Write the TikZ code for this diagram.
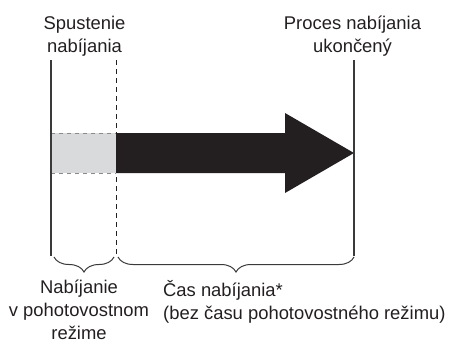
\documentclass[tikz,border=0pt]{standalone}
\usepackage{fontspec}
\setmainfont{Liberation Sans}
\usepackage{xcolor}
\usepackage{tikz}
\usetikzlibrary{positioning,calc,decorations.pathreplacing}
\definecolor{Ink}{HTML}{231F20}
\definecolor{LineGray}{HTML}{3A3A3A}
\definecolor{StandbyGray}{HTML}{D9DADB}
\definecolor{EdgeGray}{HTML}{8A8A8A}
\tikzset{
  label/.style={font=\fontsize{18.4}{23}\selectfont,align=center,inner sep=0pt,text=Ink},
  marker/.style={draw=LineGray,line width=1.1pt},
  dashmarker/.style={draw=Ink,line width=0.9pt,dash pattern=on 5pt off 4pt},
  span/.style={draw=LineGray,line width=1pt,decorate,
               decoration={brace,mirror,amplitude=15pt}}
}
\begin{document}
\begin{tikzpicture}[x=1pt,y=-1pt]
  \useasboundingbox (0,0) rectangle (452,343);

  % time markers
  \coordinate (start top) at (51,60);
  \coordinate (start bot) at (51,256);
  \coordinate (ready top) at (116,60);
  \coordinate (ready bot) at (116,256);
  \coordinate (done top) at (354,60);
  \coordinate (done bot) at (354,256);

  \node[label,anchor=north] (start) at (84.5,16) {Spustenie\\nabíjania};
  \node[label,anchor=north] (done) at (352.5,16) {Proces nabíjania\\ukončený};

  % standby part
  \fill[StandbyGray] (51,133) rectangle (116,173);
  \draw[EdgeGray,line width=0.8pt,dash pattern=on 4pt off 4pt] (51,133) -- (116,133)
    (51,173) -- (116,173);

  % charging arrow
  \fill[Ink] (116,133) -- (285,133) -- (285,113) -- (354,153) -- (285,193)
    -- (285,173) -- (116,173) -- cycle;

  \draw[marker] (start top) -- (start bot);
  \draw[dashmarker] (ready top) -- (ready bot);
  \draw[marker] (done top) -- (done bot);

  % spans
  \draw[span] ($(start bot)+(3,1)$) -- ($(ready bot)+(-2,1)$);
  \draw[span] ($(ready bot)+(2,1)$) -- ($(done bot)+(0,1)$);

  \node[label,anchor=north] (standby) at (79,280) {Nabíjanie\\v pohotovostnom\\režime};
  \node[label,anchor=north west,align=left] (charge) at (163,280)
    {Čas nabíjania*\\(bez času pohotovostného režimu)};
\end{tikzpicture}
\end{document}
